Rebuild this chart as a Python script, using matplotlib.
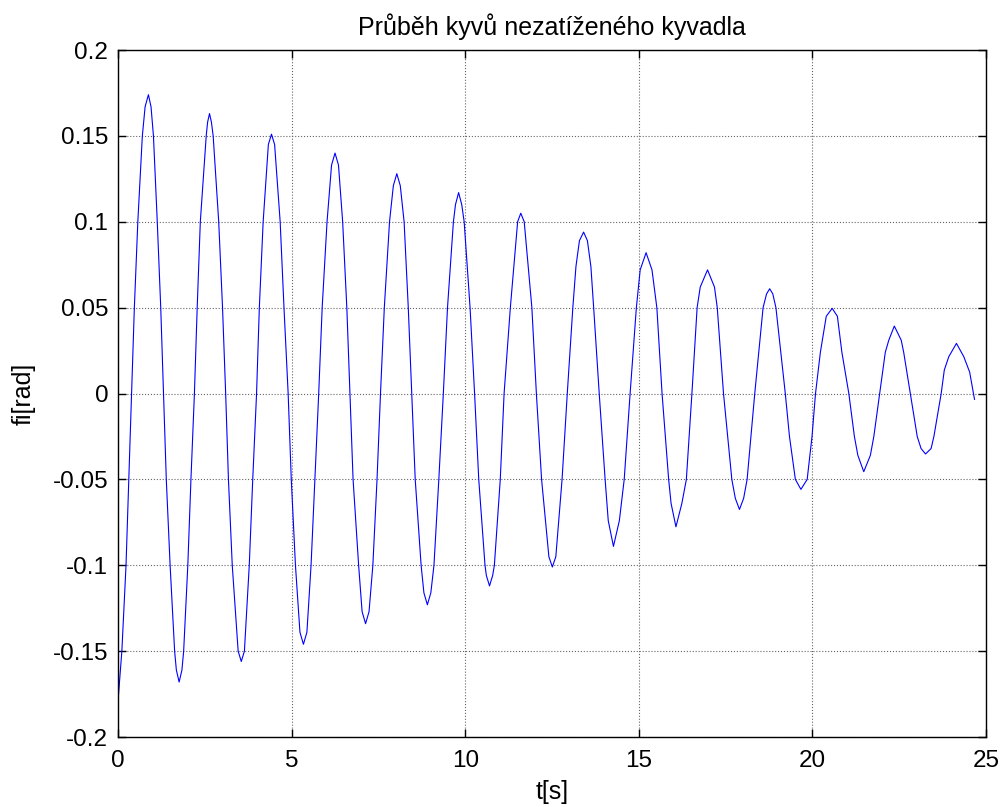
import numpy as np
import matplotlib.pyplot as plt

# time [s] and angle [rad]
# (extrema, grid-line crossings and a few shoulder points per swing)
t_s = [
    0.00, 0.11, 0.23, 0.31, 0.39, 0.47, 0.57, 0.70, 0.78, 0.875,
    0.95, 1.02, 1.13, 1.23, 1.31, 1.39, 1.50, 1.63, 1.68, 1.76,
    1.84, 1.89, 2.01, 2.10, 2.20, 2.28, 2.37, 2.54, 2.58, 2.635,
    2.69, 2.74, 2.90, 3.01, 3.10, 3.18, 3.29, 3.46, 3.55,
    3.64, 3.78, 3.88, 3.99, 4.07, 4.18, 4.33, 4.42,
    4.51, 4.67, 4.78, 4.90, 4.99, 5.11, 5.24, 5.34,
    5.44, 5.56, 5.67, 5.78, 5.88, 6.02, 6.15, 6.25,
    6.35, 6.47, 6.59, 6.68, 6.77, 6.93, 7.03, 7.13,
    7.23, 7.34, 7.46, 7.56, 7.67, 7.82, 7.93, 8.03,
    8.13, 8.24, 8.36, 8.46, 8.56, 8.73, 8.81, 8.91,
    9.01, 9.10, 9.24, 9.37, 9.49, 9.66, 9.72, 9.81,
    9.90, 9.97, 10.14, 10.27, 10.39, 10.57, 10.61, 10.70,
    10.79, 10.84, 11.01, 11.12, 11.30, 11.51, 11.60,
    11.70, 11.92, 12.05, 12.20, 12.41, 12.51,
    12.61, 12.79, 12.94, 13.10, 13.19, 13.29, 13.41,
    13.52, 13.62, 13.70, 13.86, 14.03, 14.12, 14.27,
    14.44, 14.58, 14.75, 14.93, 15.04, 15.21,
    15.38, 15.52, 15.67, 15.86, 15.93, 16.07,
    16.24, 16.37, 16.53, 16.68, 16.77, 16.98,
    17.18, 17.26, 17.44, 17.68, 17.78, 17.90,
    18.02, 18.12, 18.34, 18.58, 18.68, 18.77,
    18.86, 18.95, 19.22, 19.34, 19.51, 19.67,
    19.85, 19.99, 20.09, 20.23, 20.40, 20.57,
    20.72, 20.85, 21.05, 21.21, 21.31, 21.48,
    21.67, 21.77, 21.94, 22.10, 22.20, 22.36,
    22.56, 22.63, 22.82, 23.02, 23.13, 23.26,
    23.42, 23.50, 23.71, 23.80, 23.93, 24.15,
    24.36, 24.53, 24.67,
]
fi_rad = [
    -0.179, -0.150, -0.10, -0.05, 0.0, 0.05, 0.10, 0.15, 0.167, 0.174,
    0.167, 0.15, 0.10, 0.05, 0.0, -0.05, -0.10, -0.15, -0.161, -0.168,
    -0.161, -0.15, -0.10, -0.05, 0.0, 0.05, 0.10, 0.15, 0.158, 0.163,
    0.158, 0.15, 0.10, 0.05, 0.0, -0.05, -0.10, -0.15, -0.156,
    -0.15, -0.10, -0.05, 0.0, 0.05, 0.10, 0.145, 0.151,
    0.145, 0.10, 0.05, 0.0, -0.05, -0.10, -0.139, -0.146,
    -0.139, -0.10, -0.05, 0.0, 0.05, 0.10, 0.133, 0.140,
    0.133, 0.10, 0.05, 0.0, -0.05, -0.10, -0.127, -0.134,
    -0.127, -0.10, -0.05, 0.0, 0.05, 0.10, 0.121, 0.128,
    0.121, 0.10, 0.05, 0.0, -0.05, -0.10, -0.116, -0.123,
    -0.116, -0.10, -0.05, 0.0, 0.05, 0.10, 0.110, 0.117,
    0.110, 0.10, 0.05, 0.0, -0.05, -0.10, -0.106, -0.112,
    -0.106, -0.10, -0.05, 0.0, 0.05, 0.10, 0.105,
    0.10, 0.05, 0.0, -0.05, -0.095, -0.101,
    -0.095, -0.05, 0.0, 0.05, 0.074, 0.089, 0.094,
    0.089, 0.074, 0.05, 0.0, -0.05, -0.074, -0.089,
    -0.074, -0.05, 0.0, 0.05, 0.072, 0.082,
    0.072, 0.05, 0.0, -0.05, -0.064, -0.0776,
    -0.064, -0.05, 0.0, 0.05, 0.062, 0.072,
    0.062, 0.05, 0.0, -0.05, -0.061, -0.0675,
    -0.061, -0.05, 0.0, 0.05, 0.058, 0.061,
    0.058, 0.05, 0.0, -0.025, -0.05, -0.0558,
    -0.05, -0.025, 0.0, 0.024, 0.045, 0.0496,
    0.045, 0.024, 0.0, -0.025, -0.036, -0.0455,
    -0.036, -0.025, 0.0, 0.024, 0.031, 0.0393,
    0.031, 0.024, 0.0, -0.025, -0.032, -0.0352,
    -0.032, -0.025, 0.0, 0.0137, 0.0215, 0.0292,
    0.0215, 0.0125, -0.0034,
]

x_ticks = [0, 5, 10, 15, 20, 25]
y_ticks = [-0.2, -0.15, -0.1, -0.05, 0, 0.05, 0.1, 0.15, 0.2]
y_labels = ["-0.2", "-0.15", "-0.1", "-0.05", "0", "0.05", "0.1", "0.15", "0.2"]


def main():
    plt.rcParams['font.family'] = ['Liberation Sans', 'DejaVu Sans']

    fig = plt.figure(figsize=(10.02, 8.07), dpi=100)
    ax = fig.add_axes([0.1178, 0.0867, 0.8662, 0.8513])

    ax.plot(t_s, fi_rad, "-", color="#0000ff", lw=0.8)

    ax.set_xlim(0, 25)
    ax.set_ylim(-0.2, 0.2)
    ax.set_xticks(x_ticks)
    ax.set_yticks(y_ticks)
    ax.set_yticklabels(y_labels)

    ax.grid(True, color="0.4", linestyle=":", linewidth=0.8)
    ax.tick_params(direction="in", length=6, width=1, labelsize=17.5,
                   top=True, right=True, pad=7)
    ax.tick_params(axis="x", pad=9)
    for sp in ax.spines.values():
        sp.set_linewidth(1.0)

    ax.set_title("Průběh kyvů nezatíženého kyvadla", fontsize=18, pad=11)
    ax.set_xlabel("t[s]", fontsize=18, labelpad=6)
    ax.set_ylabel("fi[rad]", fontsize=18, labelpad=12)

    fig.savefig("out.png", dpi=100)


if __name__ == "__main__":
    main()
